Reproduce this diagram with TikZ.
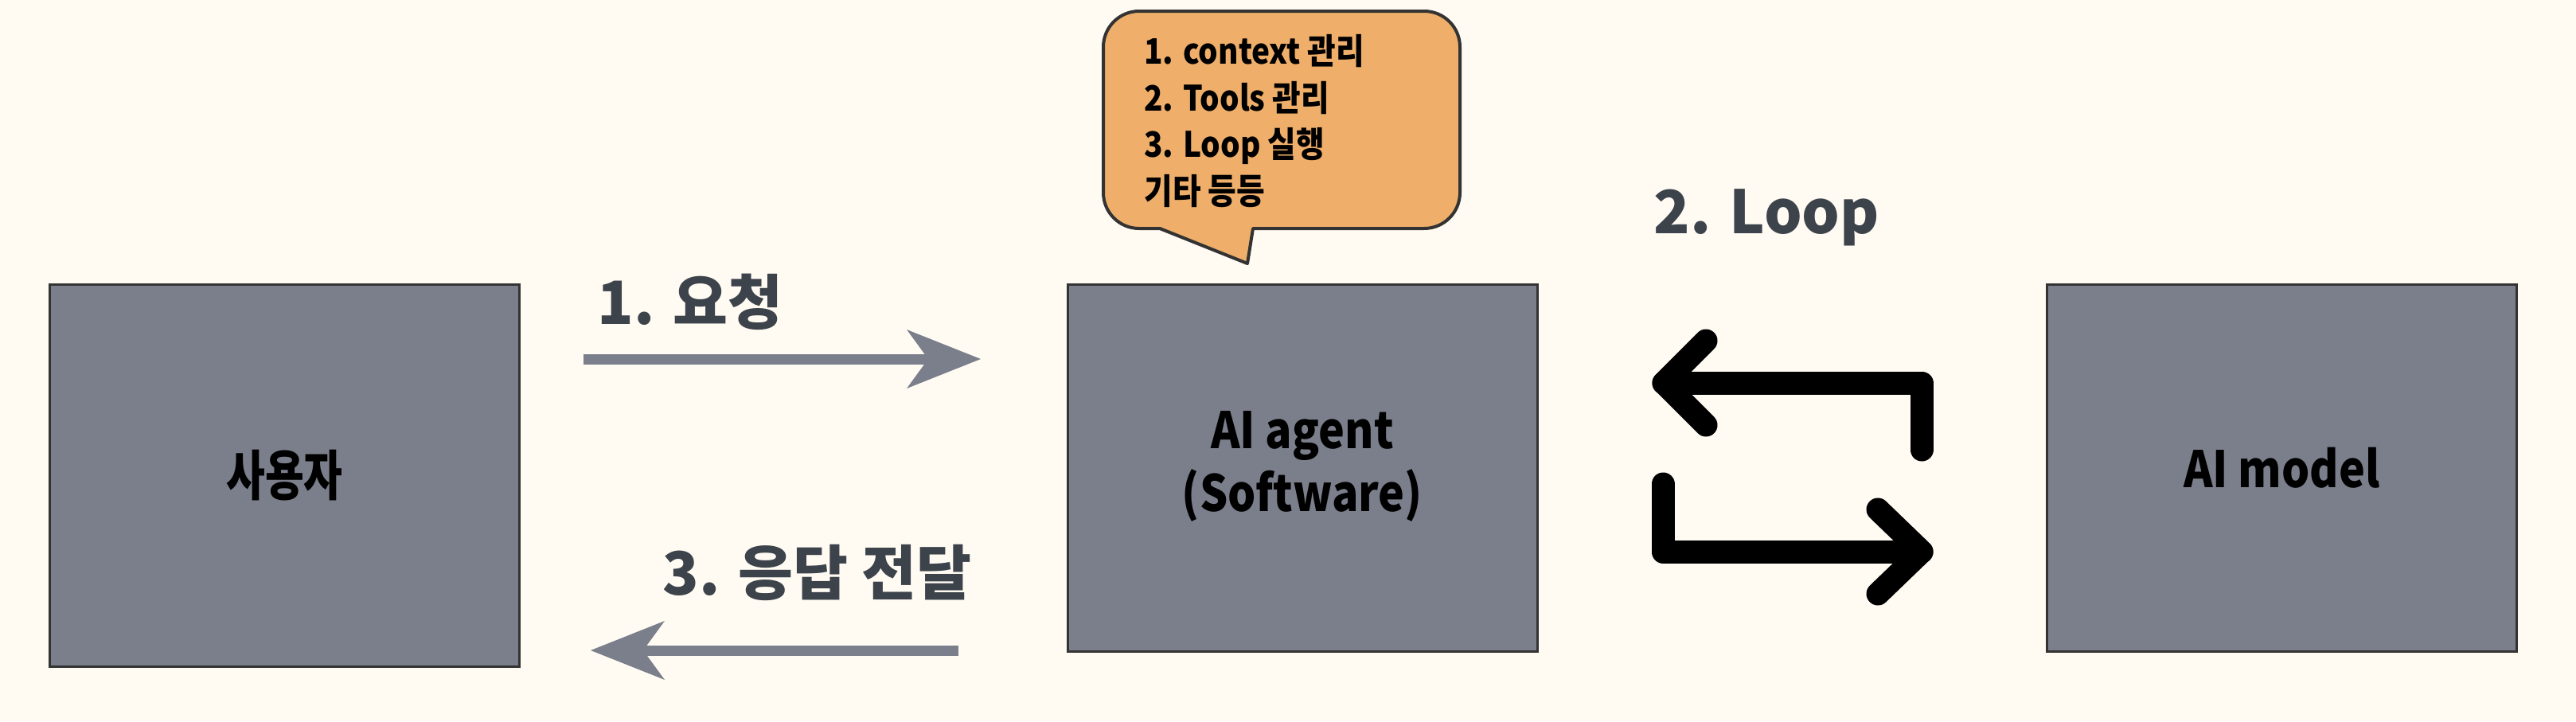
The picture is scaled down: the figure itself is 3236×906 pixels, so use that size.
\documentclass[tikz,border=0pt]{standalone}
\usepackage{fontspec}
\setmainfont{Noto Sans CJK KR}
\usepackage{graphicx}
\usetikzlibrary{arrows.meta}
\definecolor{bgcol}{HTML}{FFFBF3}
\definecolor{boxfill}{HTML}{7B7F8B}
\definecolor{bordercol}{HTML}{333333}
\definecolor{labelcol}{HTML}{3D434B}
\definecolor{bubblefill}{HTML}{EFAF6A}
\begin{document}
\begin{tikzpicture}[x=0.5pt,y=-0.5pt,
  box/.style={draw=bordercol, line width=1.5pt, fill=boxfill, inner sep=0pt, minimum width=295pt},
  boxtext/.style={font=\fontsize{31.5}{39.5}\selectfont\bfseries\addfontfeature{FakeStretch=0.88}, text=black, align=center},
  flowlabel/.style={font=\fontsize{37.5}{45}\selectfont\bfseries, text=labelcol, inner sep=0pt},
  grayarrow/.style={draw=boxfill, line width=6.5pt, -{Stealth[length=46.5pt,width=37pt,inset=13.5pt,line width=0pt]}},
  looparrow/.style={draw=black, line width=14.5pt, line cap=round, line join=round},
  bubble/.style={draw=bordercol, line width=2pt, fill=bubblefill, line join=round},
]
% background / bounding box
\fill[bgcol] (0,0) rectangle (3236,906);
\useasboundingbox (0,0) rectangle (3236,906);

% boxes
\node[box, minimum height=240pt] (user) at (357.5,597)
  {\scalebox{0.78}[1]{\fontsize{34}{40}\selectfont\bfseries 사용자}};
\node[box, boxtext, minimum height=230.5pt] (agent) at (1636,587.5)
  {\raisebox{-3.5pt}{\begin{tabular}{@{}c@{}}AI agent\\(Software)\end{tabular}}};
\node[box, boxtext, minimum height=230.5pt] (model) at (2866.5,587.5) {AI model};

% labels
\node[flowlabel, anchor=base west] (req) at (750,407) {1. 요청};
\node[flowlabel, anchor=base west] (resp) at (832,747) {3. 응답 전달};
\node[flowlabel, anchor=base west] (loop) at (2077,293) {2. Loop};

% gray arrows
\coordinate (r1) at (733,451);
\coordinate (r2) at (1232,451);
\coordinate (s1) at (1204,817);
\coordinate (s2) at (742,817);
\draw[grayarrow] (r1) -- (r2);
\draw[grayarrow] (s1) -- (s2);

% loop arrows
\coordinate (ta) at (2414,565);
\coordinate (tb) at (2414,481);
\coordinate (tt) at (2090,481);
\coordinate (tu) at (2143,428);
\coordinate (tl) at (2143,534);
\draw[looparrow] (ta) -- (tb) -- (tt);
\draw[looparrow] (tu) -- (tt) -- (tl);
\coordinate (ba) at (2089,608);
\coordinate (bb) at (2089,693);
\coordinate (bt) at (2414,693);
\coordinate (bu) at (2359,640);
\coordinate (bl) at (2359,746);
\draw[looparrow] (ba) -- (bb) -- (bt);
\draw[looparrow] (bu) -- (bt) -- (bl);

% speech bubble
\draw[bubble] (1386,59) arc[start angle=180, end angle=270, radius=45]
  -- (1789,14) arc[start angle=270, end angle=360, radius=45]
  -- (1834,242) arc[start angle=0, end angle=90, radius=45]
  -- (1574,287) -- (1567,331) -- (1457,287)
  -- (1431,287) arc[start angle=90, end angle=180, radius=45]
  -- cycle;
\node[anchor=north west, inner sep=0pt, align=left, text=black,
  font=\fontsize{22}{29.25}\selectfont\bfseries\addfontfeature{FakeStretch=0.88}] (memo) at (1437,43)
  {1. context 관리\\2. Tools 관리\\3. Loop 실행\\기타 등등};
\end{tikzpicture}
\end{document}
